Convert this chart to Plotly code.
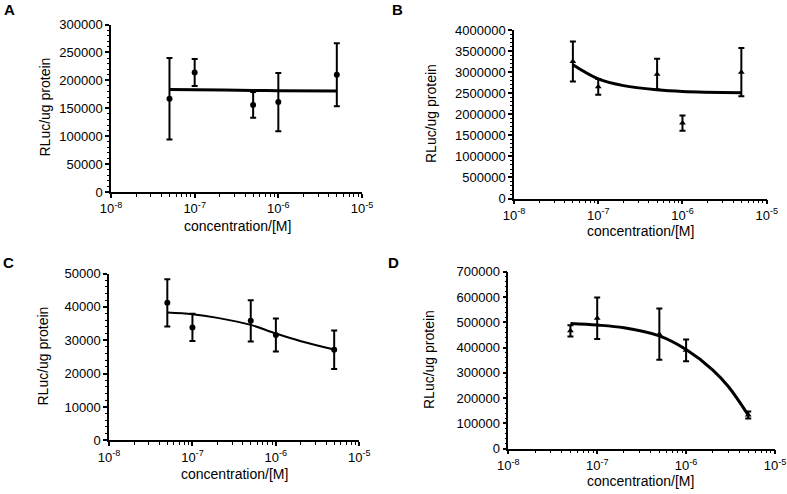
import plotly.graph_objects as go

W, H = 787, 494

# ---------------- data ----------------
conc = [5e-8, 1e-7, 5e-7, 1e-6, 5e-6]

a_mean = [167000, 214000, 156000, 161000, 210000]
a_err = [73000, 24000, 23000, 52000, 56500]
a_fit_x = [5e-8, 1e-7, 5e-7, 1e-6, 5e-6]
a_fit_y = [183500, 183000, 182000, 181500, 181000]

b_mean = [3250000, 2650000, 2950000, 1790000, 3000000]
b_err = [475000, 185000, 365000, 180000, 570000]
b_fit_x = [5e-8, 1e-7, 2e-7, 5e-7, 1e-6, 5e-6]
b_fit_y = [3175000, 2840000, 2680000, 2580000, 2540000, 2510000]

c_mean = [41200, 33850, 35800, 31550, 27150]
c_err = [7100, 4050, 6200, 4950, 5750]
c_fit_x = [5e-8, 1e-7, 2e-7, 5e-7, 1e-6, 2e-6, 5e-6]
c_fit_y = [38300, 37800, 36700, 34600, 32000, 29700, 27200]

d_mean = [466000, 516000, 453000, 389000, 133000]
d_err = [22000, 82000, 101000, 43000, 14000]
d_fit_x = [5e-8, 1e-7, 2e-7, 5e-7, 1e-6, 2e-6, 3e-6, 5e-6]
d_fit_y = [495000, 489000, 478000, 446000, 392000, 311000, 245000, 133000]

x_tickvals = [1e-8, 1e-7, 1e-6, 1e-5]
x_ticktext = ["10<sup>-8</sup>", "10<sup>-7</sup>", "10<sup>-6</sup>", "10<sup>-5</sup>"]
x_title = "concentration/[M]"
y_title = "RLuc/ug protein"

panels = [
    dict(letter="A", mean=a_mean, err=a_err, fx=a_fit_x, fy=a_fit_y, sym="circle", lw=3,
         ymax=300000, dt=50000, mdt=10000, xpx=(111, 362), ypx=(192, 24.5), lpos=(9, 10),
         xt=(237, 226), yt=(44.5, 107)),
    dict(letter="B", mean=b_mean, err=b_err, fx=b_fit_x, fy=b_fit_y, sym="triangle-up", lw=3,
         ymax=4000000, dt=500000, mdt=100000, xpx=(514, 766.7), ypx=(198.5, 30), lpos=(397, 10),
         xt=(640, 231), yt=(431, 114)),
    dict(letter="C", mean=c_mean, err=c_err, fx=c_fit_x, fy=c_fit_y, sym="circle", lw=2,
         ymax=50000, dt=10000, mdt=2000, xpx=(109, 359.3), ypx=(440.3, 273.5), lpos=(8, 262),
         xt=(234.5, 474), yt=(42.5, 356)),
    dict(letter="D", mean=d_mean, err=d_err, fx=d_fit_x, fy=d_fit_y, sym="triangle-up", lw=3,
         ymax=700000, dt=100000, mdt=20000, xpx=(508.3, 775), ypx=(448.7, 271.7), lpos=(393, 262),
         xt=(640.5, 481), yt=(429, 360)),
]

FONT = "Liberation Sans, Arial, sans-serif"
fig = go.Figure()
layout = dict(
    width=W, height=H, margin=dict(l=0, r=0, t=0, b=0),
    paper_bgcolor="white", plot_bgcolor="white", showlegend=False,
    font=dict(family=FONT, color="black", size=13),
    annotations=[],
)

for i, p in enumerate(panels, start=1):
    xa = "x" if i == 1 else f"x{i}"
    ya = "y" if i == 1 else f"y{i}"
    fig.add_trace(go.Scatter(
        x=p["fx"], y=p["fy"], mode="lines", line=dict(color="black", width=p["lw"], shape="spline"),
        xaxis=xa, yaxis=ya, hoverinfo="skip"))
    fig.add_trace(go.Scatter(
        x=conc, y=p["mean"], mode="markers",
        marker=dict(symbol=p["sym"], size=6, color="black"),
        error_y=dict(type="data", array=p["err"], visible=True, color="black", thickness=2, width=3),
        xaxis=xa, yaxis=ya))
    x0, x1 = p["xpx"]
    yb, yt = p["ypx"]
    xkey = "xaxis" if i == 1 else f"xaxis{i}"
    ykey = "yaxis" if i == 1 else f"yaxis{i}"
    layout[xkey] = dict(
        type="log", range=[-8, -5], domain=[x0 / W, x1 / W], anchor=ya, automargin=False,
        showgrid=False, zeroline=False, showline=True, linecolor="black", linewidth=1.5,
        ticks="outside", ticklen=4, tickwidth=1.5, tickcolor="black",
        tickvals=x_tickvals, ticktext=x_ticktext, tickfont=dict(size=13),
        minor=dict(ticks="outside", ticklen=3, tickwidth=1.2, tickcolor="black", dtick="D1", showgrid=False),
    )
    layout[ykey] = dict(
        range=[0, p["ymax"]], domain=[1 - yb / H, 1 - yt / H], anchor=xa, automargin=False,
        showgrid=False, zeroline=False, showline=True, linecolor="black", linewidth=1.5,
        ticks="outside", ticklen=4, tickwidth=1.5, tickcolor="black",
        dtick=p["dt"], tick0=0, tickformat="d", tickfont=dict(size=13),
        minor=dict(ticks="outside", ticklen=2, tickwidth=1, tickcolor="black", dtick=p["mdt"], showgrid=False),
    )
    lx, ly = p["lpos"]
    layout["annotations"].append(dict(
        text=f"<b>{p['letter']}</b>", x=lx / W, y=1 - ly / H, xref="paper", yref="paper",
        showarrow=False, font=dict(size=15, family=FONT), xanchor="center", yanchor="middle"))
    tx, ty = p["xt"]
    layout["annotations"].append(dict(
        text=x_title, x=tx / W, y=1 - ty / H, xref="paper", yref="paper",
        showarrow=False, font=dict(size=14, family=FONT), xanchor="center", yanchor="middle"))
    sx, sy = p["yt"]
    layout["annotations"].append(dict(
        text=y_title, x=sx / W, y=1 - sy / H, xref="paper", yref="paper", textangle=-90,
        showarrow=False, font=dict(size=14, family=FONT), xanchor="center", yanchor="middle"))

fig.update_layout(**layout)
fig.write_html(
    "out.html",
    config={"displayModeBar": False},
    post_script="document.body.style.margin='0';document.body.style.overflow='hidden';",
)
